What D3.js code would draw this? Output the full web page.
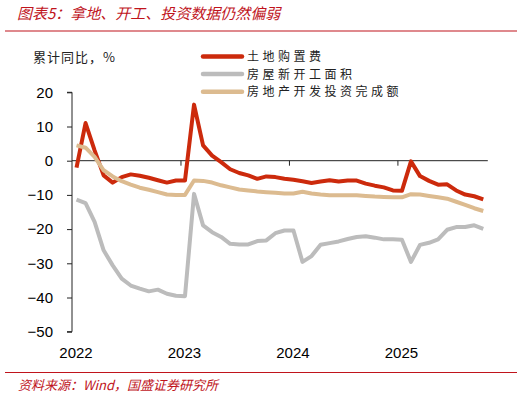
<!DOCTYPE html>
<html>
<head>
<meta charset="utf-8">
<script src="https://cdn.jsdelivr.net/npm/d3@7"></script>
<style>
  body { margin: 0; background: #fff; }
  svg { display: block; }
</style>
</head>
<body>
<main></main>
<script>
// months Jan 2022 .. Oct 2025 (cumulative YoY, %)
const months = d3.timeMonth.range(new Date(2022, 0, 1), new Date(2025, 10, 1));
const yearLabels = ["2022", "2023", "2024", "2025"];
const yTicks = [20, 10, 0, -10, -20, -30, -40, -50];

const landPurchase = [
  -2, 11, 3, -4.3, -6.4, -4.8, -4.0, -4.4, -5.0, -5.7, -6.4, -5.8,
  -5.8, 16.4, 4.5, 1.5, -0.4, -2.5, -3.6, -4.3, -5.3, -4.6, -4.8, -5.3,
  -5.6, -6.0, -6.5, -6.1, -5.7, -6.1, -5.8, -5.8, -6.7, -7.3, -7.8, -8.7,
  -8.8, -0.2, -4.5, -5.9, -7.0, -6.9, -8.7, -9.9, -10.4, -11.3
];
const newStarts = [
  -11.4, -12.4, -17.9, -26.2, -30.6, -34.5, -36.5, -37.4, -38.2, -37.7, -38.9, -39.5,
  -39.6, -9.7, -18.9, -20.9, -22.3, -24.3, -24.5, -24.5, -23.5, -23.3, -21.2, -20.4,
  -20.4, -29.6, -27.9, -24.6, -24.1, -23.6, -22.9, -22.3, -22.1, -22.5, -23.0, -23.0,
  -23.1, -29.6, -24.6, -24.0, -23.0, -20.2, -19.4, -19.4, -18.9, -19.9
];
const investment = [
  4.5, 3.8, 1.1, -2.8, -4.6, -6.0, -7.0, -7.9, -8.5, -9.2, -9.9, -10.0,
  -10.0, -5.8, -5.9, -6.4, -7.2, -7.8, -8.4, -8.7, -9.0, -9.2, -9.4, -9.6,
  -9.6, -9.1, -9.6, -9.9, -10.1, -10.1, -10.1, -10.1, -10.3, -10.5, -10.6, -10.7,
  -10.7, -9.8, -9.9, -10.3, -10.7, -11.1, -12.0, -12.9, -13.9, -14.7
];

const series = [
  { name: "土地购置费", values: landPurchase, color: "#cc2a0c" },
  { name: "房屋新开工面积", values: newStarts, color: "#bcbcbc" },
  { name: "房地产开发投资完成额", values: investment, color: "#dcbb90" }
];

const width = 526, height = 398;
const svg = d3.select("main").append("svg")
  .attr("width", width)
  .attr("height", height);

const cjk = "'Noto Sans CJK SC', 'Noto Sans', sans-serif";
const num = "'Liberation Sans', Arial, sans-serif";

// title + rules
svg.append("text")
  .attr("x", 17).attr("y", 19)
  .attr("fill", "#c0141c")
  .attr("font-family", cjk)
  .attr("font-size", 15)
  .attr("font-style", "italic")
  .text("图表5：拿地、开工、投资数据仍然偏弱");

svg.append("line")
  .attr("x1", 5).attr("x2", 517).attr("y1", 31).attr("y2", 31)
  .attr("stroke", "#c0141c").attr("stroke-width", 1.2);

svg.append("line")
  .attr("x1", 5).attr("x2", 517).attr("y1", 372.5).attr("y2", 372.5)
  .attr("stroke", "#c0141c").attr("stroke-width", 1.2);

svg.append("text")
  .attr("x", 18).attr("y", 390)
  .attr("fill", "#c0141c")
  .attr("font-family", cjk)
  .attr("font-size", 13)
  .attr("font-style", "italic")
  .text("资料来源：Wind，国盛证券研究所");

// scales
const x = d3.scaleLinear().domain([0, months.length]).range([72, 487.8]);
const y = d3.scaleLinear().domain([-50, 20]).range([331.7, 92.3]);

// y axis
const yAxis = svg.append("g")
  .attr("transform", "translate(72,0)")
  .call(d3.axisLeft(y).tickValues(yTicks).tickSize(5).tickPadding(14).tickFormat(d3.format("d")));
yAxis.select(".domain").attr("stroke", "#222").attr("d", `M-5,${y(20)}H0V${y(-50)}H-5`);
yAxis.selectAll(".tick line").attr("stroke", "#222");
yAxis.selectAll("text")
  .attr("font-family", num)
  .attr("font-size", 15)
  .attr("fill", "#000");

// x axis on the zero line
const xAxis = svg.append("g")
  .attr("transform", `translate(0,${y(0)})`)
  .call(d3.axisBottom(x).tickValues([12, 24, 36]).tickSize(5).tickFormat(""));
xAxis.select(".domain").attr("stroke", "#222").attr("d", `M${x(0)},0H${x(months.length)}`);
xAxis.selectAll(".tick line").attr("stroke", "#222");

svg.selectAll(".year")
  .data(yearLabels)
  .enter().append("text")
  .attr("class", "year")
  .attr("x", (d, i) => x(i * 12) + 4)
  .attr("y", 358)
  .attr("text-anchor", "middle")
  .attr("font-family", num)
  .attr("font-size", 15)
  .text(d => d);

// axis caption
svg.append("text")
  .attr("x", 33).attr("y", 62)
  .attr("font-family", cjk)
  .attr("font-size", 13)
  .attr("letter-spacing", 1)
  .attr("fill", "#222")
  .text("累计同比，%");

// lines
const line = d3.line()
  .x((d, i) => x(i + 0.5))
  .y(d => y(d));

svg.selectAll(".series")
  .data(series)
  .enter().append("path")
  .attr("class", "series")
  .attr("fill", "none")
  .attr("stroke", d => d.color)
  .attr("stroke-width", 4)
  .attr("stroke-linejoin", "round")
  .attr("d", d => line(d.values));

// legend
const legend = svg.selectAll(".legend")
  .data(series)
  .enter().append("g")
  .attr("class", "legend")
  .attr("transform", (d, i) => `translate(202,${56.5 + i * 17.6})`);

legend.append("line")
  .attr("x1", 1).attr("x2", 40)
  .attr("stroke", d => d.color)
  .attr("stroke-width", 4.5)
  .attr("stroke-linecap", "round");

legend.append("text")
  .attr("x", 45).attr("y", 4.5)
  .attr("font-family", cjk)
  .attr("font-size", 12)
  .attr("letter-spacing", 3.5)
  .attr("fill", "#222")
  .text(d => d.name);
</script>
</body>
</html>
